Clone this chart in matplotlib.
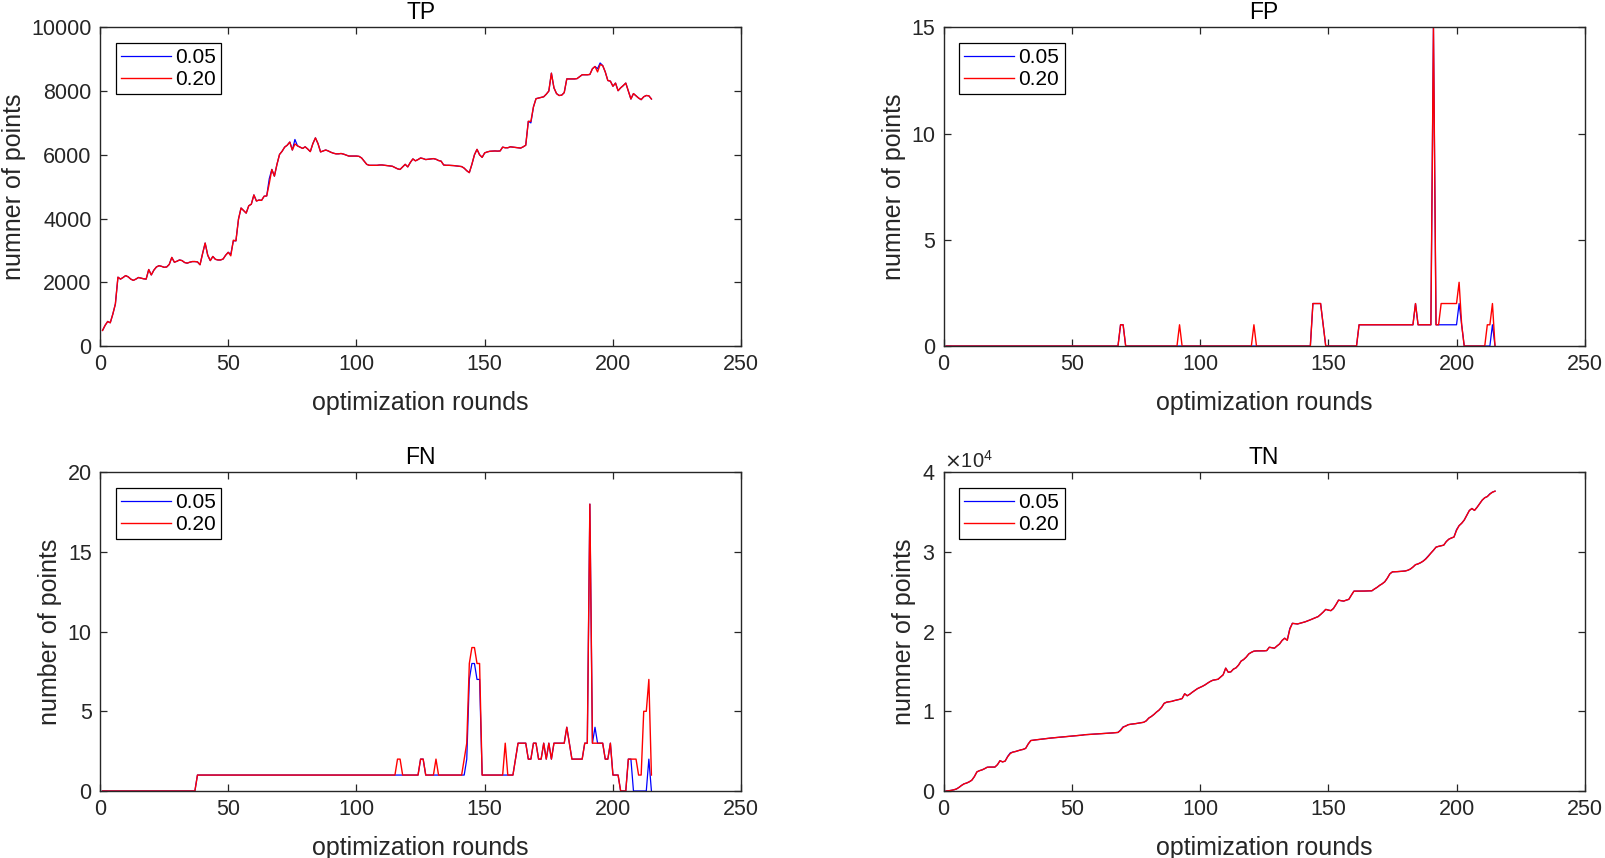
import matplotlib
matplotlib.use("Agg")
import matplotlib.pyplot as plt
from matplotlib.ticker import ScalarFormatter

plt.rcParams['font.family'] = ['Liberation Sans', 'DejaVu Sans']

rounds = list(range(1, 216))
series_labels = ["0.05", "0.20"]
panel_titles = ["TP", "FP", "FN", "TN"]
y_labels = ["numner of points", "numner of points", "number of points", "numner of points"]
x_label = "optimization rounds"
x_ticks = [0, 50, 100, 150, 200, 250]

tp_020 = [
    490, 650, 770, 730, 1000, 1320, 2160, 2100, 2150, 2210,
    2170, 2100, 2060, 2100, 2150, 2130, 2110, 2100, 2400, 2230,
    2380, 2480, 2520, 2500, 2470, 2480, 2560, 2780, 2630, 2660,
    2700, 2680, 2620, 2600, 2630, 2650, 2650, 2640, 2550, 2900,
    3230, 2850, 2680, 2810, 2720, 2700, 2700, 2730, 2850, 2940,
    2830, 3320, 3300, 3980, 4330, 4250, 4170, 4400, 4450, 4740,
    4550, 4580, 4570, 4700, 4710, 5100, 5540, 5330, 5700, 6010,
    6110, 6240, 6300, 6400, 6150, 6340, 6280, 6240, 6200, 6250,
    6180, 6100, 6350, 6530, 6350, 6090, 6120, 6150, 6120, 6080,
    6050, 6030, 6030, 6040, 6020, 5990, 5960, 5960, 5960, 5960,
    5950, 5900, 5800, 5700, 5670, 5670, 5670, 5670, 5680, 5680,
    5670, 5660, 5650, 5640, 5600, 5560, 5540, 5620, 5700, 5620,
    5760, 5870, 5810, 5850, 5900, 5880, 5850, 5860, 5870, 5880,
    5860, 5820, 5800, 5680, 5670, 5670, 5665, 5660, 5650, 5640,
    5630, 5580, 5500, 5440, 5700, 6000, 6170, 6000, 5920, 6060,
    6090, 6110, 6115, 6120, 6115, 6120, 6240, 6220, 6220, 6250,
    6240, 6230, 6220, 6210, 6250, 6300, 7050, 7050, 7500, 7760,
    7780, 7800, 7820, 7900, 8000, 8560, 8100, 7920, 7860, 7870,
    7950, 8380, 8380, 8380, 8380, 8390, 8450, 8510, 8510, 8510,
    8520, 8700, 8770, 8600, 8830, 8800, 8600, 8330, 8310, 8150,
    8250, 8010, 8100, 8170, 8250, 8000, 7750, 7920, 7850, 7780,
    7730, 7820, 7860, 7850, 7750,
]
tp_005 = [
    490, 650, 770, 730, 1000, 1320, 2160, 2100, 2150, 2210,
    2170, 2100, 2060, 2100, 2150, 2130, 2110, 2100, 2400, 2230,
    2380, 2480, 2520, 2500, 2470, 2480, 2560, 2780, 2630, 2660,
    2700, 2680, 2620, 2600, 2630, 2650, 2650, 2640, 2550, 2900,
    3230, 2850, 2680, 2810, 2720, 2700, 2700, 2730, 2850, 2940,
    2880, 3300, 3300, 3980, 4330, 4250, 4170, 4400, 4450, 4740,
    4550, 4580, 4570, 4700, 4710, 5250, 5540, 5330, 5700, 6010,
    6110, 6240, 6300, 6400, 6150, 6480, 6280, 6240, 6200, 6250,
    6180, 6100, 6350, 6530, 6350, 6090, 6120, 6150, 6120, 6080,
    6050, 6030, 6030, 6040, 6020, 5990, 5960, 5960, 5960, 5960,
    5950, 5900, 5800, 5700, 5670, 5670, 5670, 5670, 5680, 5680,
    5670, 5660, 5650, 5640, 5600, 5560, 5540, 5620, 5700, 5620,
    5760, 5870, 5810, 5850, 5900, 5880, 5850, 5860, 5870, 5880,
    5860, 5820, 5800, 5680, 5670, 5670, 5665, 5660, 5650, 5640,
    5630, 5580, 5500, 5440, 5700, 6000, 6170, 6000, 5920, 6060,
    6090, 6110, 6115, 6120, 6115, 6120, 6240, 6220, 6220, 6250,
    6240, 6230, 6220, 6210, 6250, 6300, 7050, 7000, 7500, 7760,
    7780, 7800, 7820, 7900, 8000, 8560, 8100, 7920, 7860, 7870,
    7950, 8380, 8380, 8380, 8380, 8390, 8450, 8510, 8510, 8510,
    8520, 8700, 8770, 8700, 8880, 8800, 8600, 8330, 8310, 8150,
    8250, 8010, 8100, 8170, 8250, 8000, 7750, 7920, 7850, 7780,
    7730, 7820, 7860, 7850, 7750,
]

fp_020 = [
    0, 0, 0, 0, 0, 0, 0, 0, 0, 0,
    0, 0, 0, 0, 0, 0, 0, 0, 0, 0,
    0, 0, 0, 0, 0, 0, 0, 0, 0, 0,
    0, 0, 0, 0, 0, 0, 0, 0, 0, 0,
    0, 0, 0, 0, 0, 0, 0, 0, 0, 0,
    0, 0, 0, 0, 0, 0, 0, 0, 0, 0,
    0, 0, 0, 0, 0, 0, 0, 0, 1, 1,
    0, 0, 0, 0, 0, 0, 0, 0, 0, 0,
    0, 0, 0, 0, 0, 0, 0, 0, 0, 0,
    0, 1, 0, 0, 0, 0, 0, 0, 0, 0,
    0, 0, 0, 0, 0, 0, 0, 0, 0, 0,
    0, 0, 0, 0, 0, 0, 0, 0, 0, 0,
    1, 0, 0, 0, 0, 0, 0, 0, 0, 0,
    0, 0, 0, 0, 0, 0, 0, 0, 0, 0,
    0, 0, 0, 2, 2, 2, 2, 1, 0, 0,
    0, 0, 0, 0, 0, 0, 0, 0, 0, 0,
    0, 1, 1, 1, 1, 1, 1, 1, 1, 1,
    1, 1, 1, 1, 1, 1, 1, 1, 1, 1,
    1, 1, 1, 2, 1, 1, 1, 1, 1, 1,
    15, 1, 1, 2, 2, 2, 2, 2, 2, 2,
    3, 1, 0, 0, 0, 0, 0, 0, 0, 0,
    0, 1, 1, 2, 0,
]
fp_005 = [
    0, 0, 0, 0, 0, 0, 0, 0, 0, 0,
    0, 0, 0, 0, 0, 0, 0, 0, 0, 0,
    0, 0, 0, 0, 0, 0, 0, 0, 0, 0,
    0, 0, 0, 0, 0, 0, 0, 0, 0, 0,
    0, 0, 0, 0, 0, 0, 0, 0, 0, 0,
    0, 0, 0, 0, 0, 0, 0, 0, 0, 0,
    0, 0, 0, 0, 0, 0, 0, 0, 1, 1,
    0, 0, 0, 0, 0, 0, 0, 0, 0, 0,
    0, 0, 0, 0, 0, 0, 0, 0, 0, 0,
    0, 0, 0, 0, 0, 0, 0, 0, 0, 0,
    0, 0, 0, 0, 0, 0, 0, 0, 0, 0,
    0, 0, 0, 0, 0, 0, 0, 0, 0, 0,
    0, 0, 0, 0, 0, 0, 0, 0, 0, 0,
    0, 0, 0, 0, 0, 0, 0, 0, 0, 0,
    0, 0, 0, 2, 2, 2, 2, 1, 0, 0,
    0, 0, 0, 0, 0, 0, 0, 0, 0, 0,
    0, 1, 1, 1, 1, 1, 1, 1, 1, 1,
    1, 1, 1, 1, 1, 1, 1, 1, 1, 1,
    1, 1, 1, 2, 1, 1, 1, 1, 1, 1,
    15, 1, 1, 1, 1, 1, 1, 1, 1, 1,
    2, 1, 0, 0, 0, 0, 0, 0, 0, 0,
    0, 0, 0, 1, 0,
]

fn_020 = [
    0, 0, 0, 0, 0, 0, 0, 0, 0, 0,
    0, 0, 0, 0, 0, 0, 0, 0, 0, 0,
    0, 0, 0, 0, 0, 0, 0, 0, 0, 0,
    0, 0, 0, 0, 0, 0, 0, 1, 1, 1,
    1, 1, 1, 1, 1, 1, 1, 1, 1, 1,
    1, 1, 1, 1, 1, 1, 1, 1, 1, 1,
    1, 1, 1, 1, 1, 1, 1, 1, 1, 1,
    1, 1, 1, 1, 1, 1, 1, 1, 1, 1,
    1, 1, 1, 1, 1, 1, 1, 1, 1, 1,
    1, 1, 1, 1, 1, 1, 1, 1, 1, 1,
    1, 1, 1, 1, 1, 1, 1, 1, 1, 1,
    1, 1, 1, 1, 1, 2, 2, 1, 1, 1,
    1, 1, 1, 1, 2, 2, 1, 1, 1, 1,
    2, 1, 1, 1, 1, 1, 1, 1, 1, 1,
    1, 2, 3, 8, 9, 9, 8, 8, 1, 1,
    1, 1, 1, 1, 1, 1, 1, 3, 1, 1,
    1, 2, 3, 3, 3, 3, 2, 2, 3, 3,
    2, 2, 3, 2, 3, 2, 3, 3, 3, 3,
    3, 4, 3, 2, 2, 2, 2, 2, 3, 3,
    18, 3, 3, 3, 3, 3, 2, 2, 3, 1,
    1, 1, 0, 0, 0, 2, 2, 2, 2, 1,
    1, 5, 5, 7, 1,
]
fn_005 = [
    0, 0, 0, 0, 0, 0, 0, 0, 0, 0,
    0, 0, 0, 0, 0, 0, 0, 0, 0, 0,
    0, 0, 0, 0, 0, 0, 0, 0, 0, 0,
    0, 0, 0, 0, 0, 0, 0, 1, 1, 1,
    1, 1, 1, 1, 1, 1, 1, 1, 1, 1,
    1, 1, 1, 1, 1, 1, 1, 1, 1, 1,
    1, 1, 1, 1, 1, 1, 1, 1, 1, 1,
    1, 1, 1, 1, 1, 1, 1, 1, 1, 1,
    1, 1, 1, 1, 1, 1, 1, 1, 1, 1,
    1, 1, 1, 1, 1, 1, 1, 1, 1, 1,
    1, 1, 1, 1, 1, 1, 1, 1, 1, 1,
    1, 1, 1, 1, 1, 1, 1, 1, 1, 1,
    1, 1, 1, 1, 2, 2, 1, 1, 1, 1,
    1, 1, 1, 1, 1, 1, 1, 1, 1, 1,
    1, 1, 2, 7, 8, 8, 7, 7, 1, 1,
    1, 1, 1, 1, 1, 1, 1, 1, 1, 1,
    1, 2, 3, 3, 3, 3, 2, 2, 3, 3,
    2, 2, 3, 2, 3, 2, 3, 3, 3, 3,
    3, 4, 3, 2, 2, 2, 2, 2, 3, 3,
    18, 3, 4, 3, 3, 3, 2, 2, 3, 1,
    1, 1, 0, 0, 0, 2, 2, 0, 0, 0,
    0, 0, 0, 2, 0,
]

tn_020 = [
    0, 30, 80, 150, 250, 450, 700, 900, 1000, 1150,
    1350, 1800, 2400, 2550, 2650, 2800, 2980, 3000, 3000, 3000,
    3300, 3800, 3650, 3750, 4300, 4700, 4880, 4950, 5050, 5150,
    5220, 5350, 5900, 6330, 6380, 6420, 6460, 6500, 6540, 6580,
    6610, 6650, 6680, 6710, 6740, 6770, 6800, 6830, 6870, 6900,
    6920, 6950, 6980, 7010, 7060, 7080, 7100, 7120, 7140, 7160,
    7190, 7210, 7230, 7250, 7270, 7290, 7320, 7350, 7600, 8000,
    8150, 8320, 8380, 8420, 8460, 8520, 8570, 8620, 8800, 9150,
    9350, 9600, 9900, 10150, 10500, 11000, 11150, 11200, 11250, 11350,
    11420, 11500, 11600, 12200, 11950, 12150, 12400, 12620, 12850, 13000,
    13150, 13330, 13550, 13750, 13900, 13960, 14020, 14300, 14580, 15420,
    14900, 14950, 15290, 15450, 15800, 16300, 16500, 16800, 17200, 17400,
    17550, 17580, 17580, 17580, 17590, 17620, 18040, 17980, 17920, 18200,
    18450, 18900, 19170, 18900, 20300, 21040, 21000, 20960, 21050, 21150,
    21230, 21350, 21480, 21620, 21750, 21880, 22150, 22450, 22790, 22700,
    22630, 22900, 23400, 23950, 23880, 23830, 23950, 24050, 24580, 25080,
    25080, 25080, 25080, 25090, 25100, 25110, 25125, 25350, 25550, 25800,
    26000, 26250, 26700, 27250, 27500, 27510, 27530, 27550, 27580, 27610,
    27700, 27850, 28100, 28400, 28500, 28650, 28850, 29100, 29450, 29850,
    30210, 30600, 30700, 30780, 30850, 31300, 31600, 31750, 31870, 32700,
    33300, 33600, 34000, 34600, 35200, 35450, 35210, 35600, 36040, 36500,
    36800, 36950, 37250, 37500, 37625,
]
tn_005 = [
    0, 30, 80, 150, 250, 450, 700, 900, 1000, 1150,
    1350, 1800, 2400, 2550, 2650, 2800, 2980, 3000, 3000, 3000,
    3300, 3800, 3650, 3750, 4350, 4780, 4880, 4950, 5050, 5150,
    5220, 5350, 5900, 6330, 6380, 6420, 6460, 6500, 6540, 6580,
    6610, 6650, 6680, 6710, 6740, 6770, 6800, 6830, 6870, 6900,
    6920, 6950, 6980, 7010, 7060, 7080, 7100, 7120, 7140, 7160,
    7190, 7210, 7230, 7250, 7270, 7290, 7320, 7350, 7650, 8050,
    8150, 8320, 8380, 8420, 8460, 8520, 8570, 8620, 8800, 9150,
    9350, 9600, 9900, 10150, 10500, 11000, 11150, 11200, 11250, 11350,
    11420, 11500, 11600, 12200, 11950, 12150, 12400, 12620, 12850, 13000,
    13150, 13330, 13550, 13750, 13900, 13960, 14020, 14300, 14580, 15420,
    14900, 14950, 15290, 15450, 15800, 16300, 16500, 16800, 17200, 17400,
    17550, 17580, 17580, 17580, 17590, 17620, 18040, 17980, 17920, 18200,
    18450, 18900, 19170, 18950, 20400, 21040, 21000, 20960, 21050, 21150,
    21230, 21350, 21480, 21620, 21750, 21880, 22150, 22450, 22790, 22700,
    22630, 22900, 23400, 23950, 23880, 23830, 23950, 24050, 24580, 25080,
    25080, 25080, 25080, 25090, 25100, 25110, 25125, 25350, 25550, 25800,
    26000, 26250, 26700, 27250, 27500, 27510, 27530, 27550, 27580, 27610,
    27700, 27850, 28100, 28400, 28500, 28650, 28850, 29150, 29500, 29850,
    30210, 30600, 30700, 30780, 30850, 31300, 31600, 31750, 31870, 32800,
    33300, 33600, 34000, 34600, 35200, 35450, 35210, 35600, 36040, 36500,
    36800, 36950, 37300, 37500, 37625,
]

panels = [
    (tp_005, tp_020, (0, 10000), [0, 2000, 4000, 6000, 8000, 10000]),
    (fp_005, fp_020, (0, 15), [0, 5, 10, 15]),
    (fn_005, fn_020, (0, 20), [0, 5, 10, 15, 20]),
    (tn_005, tn_020, (0, 40000), [0, 10000, 20000, 30000, 40000]),
]

W, H = 1605, 858
fig = plt.figure(figsize=(W / 100, H / 100), dpi=100)
fig.patch.set_facecolor('white')

ax_w = 0.3995
ax_h = 0.3715
positions = [
    (0.0623, 0.5967),
    (0.5879, 0.5967),
    (0.0623, 0.0781),
    (0.5879, 0.0781),
]
axis_col = '#262626'
tick_fs = 15.5
legend_fs = 15
label_fs = 18
title_fs = 16.5

for i, (s005, s020, ylim, yticks) in enumerate(panels):
    left, bottom = positions[i]
    ax = fig.add_axes([left, bottom, ax_w, ax_h])
    ax.plot(rounds, s005, color=(0, 0, 1), lw=0.9, label=series_labels[0])
    ax.plot(rounds, s020, color=(1, 0, 0), lw=1.0, label=series_labels[1])
    ax.set_xlim(0, 250)
    ax.set_ylim(*ylim)
    ax.set_xticks(x_ticks)
    ax.set_yticks(yticks)
    for sp in ax.spines.values():
        sp.set_color(axis_col)
        sp.set_linewidth(1.0)
    ax.tick_params(direction='in', top=True, right=True, length=5, width=0.9,
                   colors=axis_col, labelsize=tick_fs, pad=6)
    ax.set_xlabel(x_label, fontsize=label_fs, color=axis_col, labelpad=11)
    ax.set_ylabel(y_labels[i], fontsize=label_fs, color=axis_col, labelpad=4)
    ax.set_title(panel_titles[i], fontsize=title_fs, color='black', pad=6)
    if i == 3:
        fmt = ScalarFormatter(useMathText=True)
        fmt.set_powerlimits((0, 0))
        ax.yaxis.set_major_formatter(fmt)
        ax.yaxis.get_offset_text().set_fontsize(tick_fs - 1)
        ax.yaxis.get_offset_text().set_color(axis_col)
    leg = ax.legend(loc='upper left', fontsize=legend_fs, frameon=True, fancybox=False,
                    framealpha=1, edgecolor='black', handlelength=2.4,
                    handletextpad=0.2, borderpad=0.25, labelspacing=0.15,
                    borderaxespad=0.75)
    leg.get_frame().set_linewidth(0.9)

fig.savefig('out.png', dpi=100, facecolor='white')
